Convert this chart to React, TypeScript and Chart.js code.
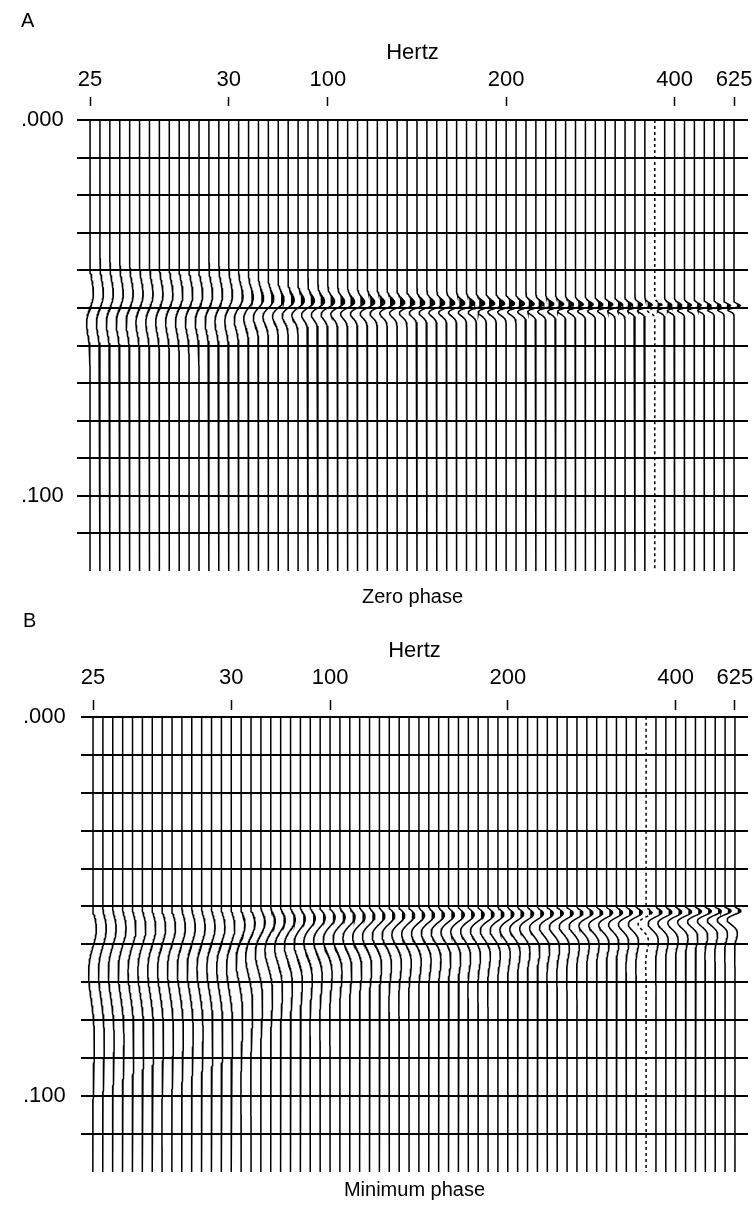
import React, { useEffect, useRef } from 'react';
import { Chart, registerables } from 'chart.js';

Chart.register(...registerables);

// ---- data ----
// Frequency (Hz) of each of the 66 traces, left to right (labels: 25 @0, 30 @14, 100 @24, 200 @42, 400 @59, 625 @65)
const TRACE_HZ = [
  25, 25.4, 25.7, 26.1, 26.4, 26.8, 27.1, 27.5, 27.9, 28.2, 28.6, 28.9, 29.3, 29.6, 30,
  37, 44, 51, 58, 65, 72, 79, 86, 93, 100,
  106, 111, 117, 122, 128, 133, 139, 144, 150, 156, 161, 167, 172, 178, 183, 189, 194, 200,
  212, 224, 235, 247, 259, 271, 282, 294, 306, 318, 329, 341, 353, 365, 376, 388, 400,
  438, 475, 513, 550, 588, 625,
];
// Top axis ("Hertz") labels and the trace each one sits over
const HZ_TICK_LABELS = ['25', '30', '100', '200', '400', '625'];
const HZ_TICK_TRACES = [0, 14, 24, 42, 59, 65];
// Timing lines (s) and the labelled ones
const TIME_LINES = [0, 0.01, 0.02, 0.03, 0.04, 0.05, 0.06, 0.07, 0.08, 0.09, 0.1, 0.11];
const TIME_LABEL_VALUES = [0, 0.1];
const TIME_LABELS = ['.000', '.100'];
const TIME_END = 0.12;
const ARRIVAL_S = 0.05;

const FONT = "'Liberation Sans', Arial, Helvetica, sans-serif";
const INK = '#000';
const FILL_BIAS = 0.28;

// zero-phase wavelet: right (positive) lobe just before the arrival, left lobe just after
function zeroPhase(tau: number, hz: number) {
  const s = 0.004 * Math.pow(25 / hz, 0.6);
  const u = tau / s;
  return -u * Math.exp(0.5 - 0.5 * u * u);
}
// minimum-phase wavelet: starts at the arrival, lobes lengthen and decay
function minPhase(tau: number, hz: number) {
  if (tau <= 0) return 0;
  const L = 0.0105 * Math.pow(25 / hz, 0.5);
  const u = Math.pow(tau / L, 0.7);
  return (Math.sin(Math.PI * u) * u * u * u * Math.exp(-2.8 * u)) / 0.052;
}
function ampZero(hz: number) {
  if (hz <= 200) return 0.35 + 0.5 * Math.log(hz / 25) / Math.log(8);
  return 0.85 - 0.22 * Math.log(hz / 200) / Math.log(625 / 200);
}
function ampMin(hz: number) {
  return 0.45 + 0.35 * Math.min(1, Math.log(hz / 25) / Math.log(8));
}

type Panel = {
  letter: string;
  caption: string;
  kind: 'zero' | 'min';
  dotted: number;
  padLeft: number;
  yPad: number;
  xMin: number;
  xMax: number;
  tickLen: number;
  tickGap: number;
  tickDash: number;
  letterPad: { top: number; bottom: number };
  hertzPad: { top: number; bottom: number };
  capPad: { top: number; bottom: number };
};

const PANEL_A: Panel = {
  letter: 'A', caption: 'Zero phase', kind: 'zero', dotted: 57,
  padLeft: 21, yPad: 6.6, xMin: -1.312, xMax: 66.41,
  tickLen: 27.3, tickGap: 4.3, tickDash: 9,
  letterPad: { top: 9.5, bottom: 0 }, hertzPad: { top: 6.4, bottom: 0 },
  capPad: { top: 14, bottom: 0 },
};
const PANEL_B: Panel = {
  letter: 'B', caption: 'Minimum phase', kind: 'min', dotted: 56,
  padLeft: 23, yPad: 7.6, xMin: -1.215, xMax: 66.32,
  tickLen: 26, tickGap: 9.2, tickDash: 10,
  letterPad: { top: 0, bottom: 0 }, hertzPad: { top: 5, bottom: 0 },
  capPad: { top: 6, bottom: 8 },
};

function buildConfig(p: Panel): any {
  const datasets: any[] = [];
  const steps = 600;
  TRACE_HZ.forEach((hz, k) => {
    const amp = p.kind === 'zero' ? ampZero(hz) : ampMin(hz);
    const ts: number[] = [];
    const ds: number[] = [];
    for (let i = 0; i <= steps; i++) {
      const t = (TIME_END * i) / steps;
      const tau = t - ARRIVAL_S;
      ts.push(t);
      ds.push(amp * (p.kind === 'zero' ? zeroPhase(tau, hz) : minPhase(tau, hz)));
    }
    const line = ts.map((t, i) => ({ x: k + ds[i], y: t }));
    const area = ts.map((t, i) => {
      const on =
        ds[i] > FILL_BIAS || (i > 0 && ds[i - 1] > FILL_BIAS) || (i < steps && ds[i + 1] > FILL_BIAS);
      return { x: on ? k + Math.max(ds[i], FILL_BIAS) : null, y: t };
    });
    datasets.push({
      data: area,
      borderColor: 'rgba(0,0,0,0)',
      borderWidth: 0,
      backgroundColor: INK,
      pointRadius: 0,
      spanGaps: false,
      fill: { value: k + FILL_BIAS },
    });
    datasets.push({
      data: line,
      borderColor: INK,
      borderWidth: 1.5,
      borderDash: k === p.dotted ? [3, 3] : [],
      pointRadius: 0,
      fill: false,
    });
  });

  const font = { family: FONT, size: 22, weight: 'normal' as const, lineHeight: 1.2 };
  const smallFont = { family: FONT, size: 20, weight: 'normal' as const, lineHeight: 1.2 };
  const dashPeriod = p.tickDash + 200;

  return {
    type: 'line',
    data: { datasets },
    options: {
      responsive: false,
      animation: false,
      devicePixelRatio: 1,
      events: [],
      indexAxis: 'y',
      elements: { line: { tension: 0 } },
      layout: { padding: { left: p.padLeft, right: 6, top: 0, bottom: 0 } },
      plugins: {
        legend: { display: false },
        tooltip: { enabled: false },
        title: {
          display: true, text: p.letter, align: 'start', color: INK, font: smallFont,
          padding: p.letterPad,
        },
        subtitle: {
          display: true, text: p.caption, position: 'bottom', align: 'center', fullSize: false,
          color: INK, font: smallFont, padding: p.capPad,
        },
      },
      scales: {
        x: {
          type: 'linear',
          position: 'top',
          min: p.xMin,
          max: p.xMax,
          afterBuildTicks: (scale: any) => {
            scale.ticks = HZ_TICK_TRACES.map((value) => ({ value }));
          },
          ticks: {
            autoSkip: false,
            maxRotation: 0,
            color: INK,
            font,
            padding: 0,
            callback: (v: any) => {
              const i = HZ_TICK_TRACES.indexOf(Number(v));
              return i >= 0 ? HZ_TICK_LABELS[i] : '';
            },
          },
          grid: {
            display: true,
            drawOnChartArea: false,
            drawTicks: true,
            tickLength: p.tickLen,
            tickWidth: 1.5,
            tickColor: INK,
            tickBorderDash: [p.tickDash, 200],
            tickBorderDashOffset: dashPeriod - p.tickGap,
          },
          border: { display: false },
          title: { display: true, text: 'Hertz', color: INK, font, padding: p.hertzPad },
        },
        y: {
          type: 'linear',
          reverse: true,
          min: 0,
          max: TIME_END,
          afterBuildTicks: (scale: any) => {
            scale.ticks = TIME_LINES.map((value) => ({ value }));
          },
          ticks: {
            autoSkip: false,
            color: INK,
            font,
            padding: p.yPad,
            crossAlign: 'far',
            callback: (v: any) => {
              const i = TIME_LABEL_VALUES.findIndex((x) => Math.abs(x - Number(v)) < 1e-6);
              return i >= 0 ? TIME_LABELS[i] : '';
            },
          },
          grid: { display: true, drawTicks: false, color: INK, lineWidth: 2 },
          border: { display: false },
        },
      },
    },
  };
}

export default function App() {
  const refA = useRef<HTMLCanvasElement>(null);
  const refB = useRef<HTMLCanvasElement>(null);
  useEffect(() => {
    const a = new Chart(refA.current as HTMLCanvasElement, buildConfig(PANEL_A));
    const b = new Chart(refB.current as HTMLCanvasElement, buildConfig(PANEL_B));
    return () => {
      a.destroy();
      b.destroy();
    };
  }, []);
  return (
    <div style={{ position: 'absolute', left: 0, top: 0, width: 754, height: 1210, background: '#fff' }}>
      <canvas ref={refA} width={754} height={609} style={{ display: 'block', width: 754, height: 609 }} />
      <canvas ref={refB} width={754} height={601} style={{ display: 'block', width: 754, height: 601 }} />
    </div>
  );
}
